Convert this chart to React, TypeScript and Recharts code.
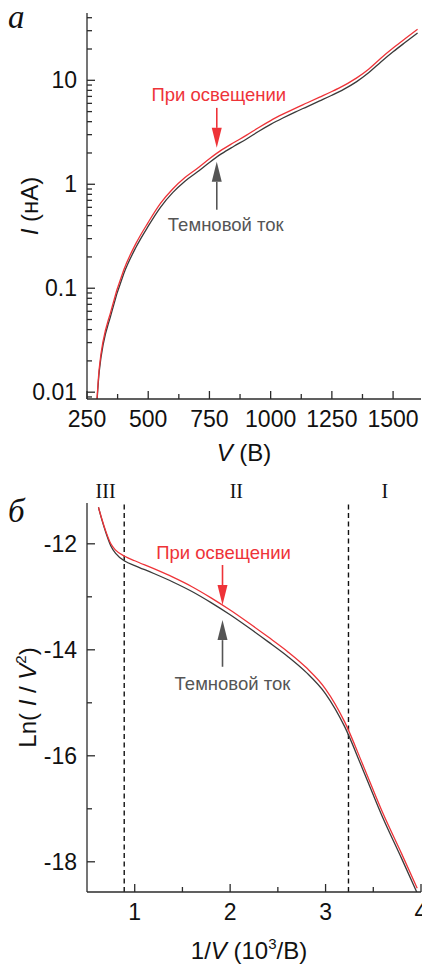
import React from 'react';
import { LineChart, Line, XAxis, YAxis, ReferenceLine, ReferenceArea } from 'recharts';

const SANS = '"Liberation Sans", Arial, sans-serif';
const SERIF = '"Liberation Serif", "Times New Roman", serif';
const RED = '#ee3338';
const DARK = '#3a3a3a';
const ARROW_DARK = '#555555';
const AXIS = '#2b2b2b';
const TEXT = '#111111';

// ---------- Panel а : I(V), log scale ----------
const voltage = [291, 300, 350, 400, 450, 500, 550, 600, 650, 700, 750, 800, 850, 900, 950, 1000, 1050, 1100, 1150, 1200, 1250, 1300, 1350, 1400, 1450, 1500, 1550, 1600];
const currentLight = [0.0086, 0.017, 0.063, 0.15, 0.27, 0.43, 0.655, 0.9, 1.16, 1.42, 1.76, 2.14, 2.52, 2.95, 3.5, 4.1, 4.72, 5.38, 6.08, 6.88, 7.8, 8.95, 10.5, 12.8, 16.3, 20.4, 25.2, 31.0];
const currentDark = [0.0083, 0.0158, 0.058, 0.138, 0.248, 0.395, 0.6, 0.83, 1.07, 1.31, 1.62, 1.97, 2.32, 2.71, 3.22, 3.77, 4.34, 4.95, 5.59, 6.33, 7.18, 8.23, 9.66, 11.8, 15.0, 18.8, 23.2, 28.5];

const vDomain = [250, 1614];
const vTicksMajor = [250, 500, 750, 1000, 1250, 1500];
const vTickLabels = ['250', '500', '750', '1000', '1250', '1500'];
const vTicksMinor = [375, 625, 875, 1125, 1375];

const iDomain = [0.0086, 44.4];
const iTicksMajor = [0.01, 0.1, 1, 10];
const iTickLabels = ['0.01', '0.1', '1', '10'];
const iTicksMinor = [0.009, 0.02, 0.03, 0.04, 0.05, 0.06, 0.07, 0.08, 0.09, 0.2, 0.3, 0.4, 0.5, 0.6, 0.7, 0.8, 0.9, 2, 3, 4, 5, 6, 7, 8, 9, 20, 30, 40];

// ---------- Panel б : Ln(I/V^2) vs 1/V ----------
const invV = [0.62, 0.65, 0.7, 0.75, 0.8, 0.9, 1.0, 1.2, 1.4, 1.6, 1.8, 2.0, 2.2, 2.4, 2.6, 2.8, 3.0, 3.2, 3.4, 3.6, 3.8, 3.96];
const lnLight = [-11.31, -11.5, -11.78, -12.0, -12.12, -12.24, -12.32, -12.47, -12.63, -12.81, -13.02, -13.25, -13.5, -13.76, -14.03, -14.34, -14.74, -15.36, -16.21, -17.08, -17.86, -18.5];
const lnDark = [-11.31, -11.51, -11.8, -12.04, -12.18, -12.33, -12.41, -12.56, -12.72, -12.9, -13.11, -13.34, -13.59, -13.85, -14.12, -14.43, -14.83, -15.45, -16.3, -17.17, -17.95, -18.59];

const xDomain = [0.5, 4.0];
const xTicksMajor = [1, 2, 3, 4];
const xTickLabels = ['1', '2', '3', '4'];
const xTicksMinor = [1.5, 2.5, 3.5];

const lnDomain = [-18.57, -11.23];
const lnTicksMajor = [-18, -16, -14, -12];
const lnTickLabels = ['-18', '-16', '-14', '-12'];
const lnTicksMinor = [-17, -15, -13];

const regionBounds = [0.5, 0.89, 3.24, 4.0];
const regionLabels = ['III', 'II', 'I'];
const dividers = [0.89, 3.24];

const labelLight = 'При освещении';
const labelDark = 'Темновой ток';

// annotation arrows (data coordinates)
const topArrows = [
  { x: 780, from: 5.43, to: 2.24, text: labelLight, color: RED, textColor: RED, dx: 2, dy: -6.5 },
  { x: 780, from: 0.569, to: 1.645, text: labelDark, color: ARROW_DARK, textColor: ARROW_DARK, dx: 9, dy: 21.7 },
];
const bottomArrows = [
  { x: 1.92, from: -12.4, to: -13.155, text: labelLight, color: RED, textColor: RED, dx: 1, dy: -5.7 },
  { x: 1.92, from: -14.32, to: -13.44, text: labelDark, color: ARROW_DARK, textColor: ARROW_DARK, dx: 10, dy: 23 },
];

const topData = voltage.map((v, i) => ({ v, light: currentLight[i], dark: currentDark[i] }));
const bottomData = invV.map((x, i) => ({ x, light: lnLight[i], dark: lnDark[i] }));

const near = (a: number, b: number) => Math.abs(a - b) < 1e-9 * Math.max(1, Math.abs(a));

const makeYTick = (majors: number[], labels: string[]) => (props: any) => {
  const { x, y, payload } = props;
  const idx = majors.findIndex((m) => near(m, payload.value));
  const major = idx >= 0;
  return (
    <g>
      <line x1={x} x2={x + (major ? 8 : 5)} y1={y} y2={y} stroke={AXIS} strokeWidth={1.3} />
      {major && (
        <text x={x - 10} y={y + 8} textAnchor="end" fontSize={23} fontFamily={SANS} fill={TEXT}>
          {labels[idx]}
        </text>
      )}
    </g>
  );
};

const makeXTick = (majors: number[], labels: string[]) => (props: any) => {
  const { x, y, payload } = props;
  const idx = majors.findIndex((m) => near(m, payload.value));
  const major = idx >= 0;
  return (
    <g>
      <line x1={x} x2={x} y1={y} y2={y - (major ? 8 : 5)} stroke={AXIS} strokeWidth={1.3} />
      {major && (
        <text x={x} y={y + 28} textAnchor="middle" fontSize={23} fontFamily={SANS} fill={TEXT}>
          {labels[idx]}
        </text>
      )}
    </g>
  );
};

const arrowShape = (a: any) => (p: any) => {
  const { x1, y1, x2, y2 } = p;
  const dir = y2 > y1 ? 1 : -1;
  const headLen = 20;
  const headW = 5;
  const baseY = y2 - dir * headLen;
  return (
    <g>
      <line x1={x1} y1={y1} x2={x2} y2={baseY} stroke={a.color} strokeWidth={1.6} />
      <polygon points={`${x2},${y2} ${x2 - headW},${baseY} ${x2 + headW},${baseY}`} fill={a.color} />
      <text x={x1 + a.dx} y={y1 + a.dy} textAnchor="middle" fontSize={18.5} fontFamily={SANS} fill={a.textColor}>
        {a.text}
      </text>
    </g>
  );
};

const axisLine = { stroke: AXIS, strokeWidth: 1.3 };

const TopYLabel = (props: any) => {
  const vb = props.viewBox;
  const cx = vb.x + 38;
  const cy = vb.y + vb.height / 2;
  return (
    <text x={cx} y={cy} transform={`rotate(-90 ${cx} ${cy})`} textAnchor="middle" fontSize={24} fontFamily={SANS} fill={TEXT}>
      <tspan fontStyle="italic">I</tspan>
      <tspan> (нА)</tspan>
    </text>
  );
};

const TopXLabel = (props: any) => {
  const vb = props.viewBox;
  const cx = vb.x + vb.width / 2 - 10;
  const cy = vb.y + 62;
  return (
    <text x={cx} y={cy} textAnchor="middle" fontSize={24} fontFamily={SANS} fill={TEXT}>
      <tspan fontStyle="italic">V</tspan>
      <tspan> (B)</tspan>
    </text>
  );
};

const BottomYLabel = (props: any) => {
  const vb = props.viewBox;
  const cx = vb.x + 36;
  const cy = vb.y + vb.height / 2;
  return (
    <text x={cx} y={cy} transform={`rotate(-90 ${cx} ${cy})`} textAnchor="middle" fontSize={24} fontFamily={SANS} fill={TEXT}>
      <tspan>Ln( </tspan>
      <tspan fontStyle="italic">I</tspan>
      <tspan> / </tspan>
      <tspan fontStyle="italic">V</tspan>
      <tspan fontSize={15} dy={-10}>2</tspan>
      <tspan dy={10}>)</tspan>
    </text>
  );
};

const BottomXLabel = (props: any) => {
  const vb = props.viewBox;
  const cx = vb.x + vb.width / 2 - 5;
  const cy = vb.y + 67;
  return (
    <text x={cx} y={cy} textAnchor="middle" fontSize={24} fontFamily={SANS} fill={TEXT}>
      <tspan>1/</tspan>
      <tspan fontStyle="italic">V</tspan>
      <tspan> (10</tspan>
      <tspan fontSize={15} dy={-10}>3</tspan>
      <tspan dy={10}>/B)</tspan>
    </text>
  );
};

const RegionLabel = (text: string) => (props: any) => {
  const vb = props.viewBox;
  return (
    <text x={vb.x + vb.width / 2} y={vb.y - 5} textAnchor="middle" fontSize={20} fontFamily={SERIF} fill={TEXT}>
      {text}
    </text>
  );
};

export default function App() {
  return (
    <div style={{ position: 'absolute', left: 0, top: 0, width: 422, height: 966, overflow: 'hidden', background: '#fff' }}>
      <div style={{ position: 'absolute', left: 0, top: 0 }}>
        <LineChart width={440} height={470} data={topData} margin={{ top: 13, right: 19, bottom: 0, left: 0 }}>
          <XAxis
            dataKey="v"
            type="number"
            domain={vDomain}
            allowDataOverflow
            ticks={[...vTicksMajor, ...vTicksMinor].sort((a, b) => a - b)}
            interval={0}
            tickSize={0}
            tickMargin={0}
            tickLine={false}
            tick={makeXTick(vTicksMajor, vTickLabels)}
            axisLine={axisLine}
            height={71}
            label={<TopXLabel />}
          />
          <XAxis xAxisId="top" orientation="top" type="number" domain={[0, 1]} height={0} tick={false} tickLine={false} axisLine={axisLine} />
          <YAxis
            type="number"
            scale="log"
            domain={iDomain}
            allowDataOverflow
            ticks={[...iTicksMajor, ...iTicksMinor].sort((a, b) => a - b)}
            interval={0}
            tickSize={0}
            tickMargin={0}
            tickLine={false}
            tick={makeYTick(iTicksMajor, iTickLabels)}
            axisLine={axisLine}
            width={87}
            label={<TopYLabel />}
          />
          <YAxis yAxisId="right" orientation="right" type="number" domain={[0, 1]} width={0} tick={false} tickLine={false} axisLine={axisLine} />
          <Line type="monotone" dataKey="dark" stroke={DARK} strokeWidth={1.3} dot={false} isAnimationActive={false} />
          <Line type="monotone" dataKey="light" stroke={RED} strokeWidth={1.3} dot={false} isAnimationActive={false} />
          {topArrows.map((a, i) => (
            <ReferenceLine
              key={'ta' + i}
              segment={[{ x: a.x, y: a.from }, { x: a.x, y: a.to }]}
              shape={arrowShape(a)}
            />
          ))}
        </LineChart>
      </div>

      <div style={{ position: 'absolute', left: 0, top: 470 }}>
        <LineChart width={440} height={496} data={bottomData} margin={{ top: 33, right: 19, bottom: 0, left: 0 }}>
          <XAxis
            dataKey="x"
            type="number"
            domain={xDomain}
            allowDataOverflow
            ticks={[...xTicksMajor, ...xTicksMinor].sort((a, b) => a - b)}
            interval={0}
            tickSize={0}
            tickMargin={0}
            tickLine={false}
            tick={makeXTick(xTicksMajor, xTickLabels)}
            axisLine={axisLine}
            height={74}
            label={<BottomXLabel />}
          />
          <XAxis xAxisId="top" orientation="top" type="number" domain={[0, 1]} height={0} tick={false} tickLine={false} axisLine={axisLine} />
          <YAxis
            type="number"
            domain={lnDomain}
            allowDataOverflow
            ticks={[...lnTicksMajor, ...lnTicksMinor].sort((a, b) => a - b)}
            interval={0}
            tickSize={0}
            tickMargin={0}
            tickLine={false}
            tick={makeYTick(lnTicksMajor, lnTickLabels)}
            axisLine={axisLine}
            width={87}
            label={<BottomYLabel />}
          />
          <YAxis yAxisId="right" orientation="right" type="number" domain={[0, 1]} width={0} tick={false} tickLine={false} axisLine={axisLine} />
          {regionLabels.map((r, i) => (
            <ReferenceArea
              key={'reg' + i}
              x1={regionBounds[i]}
              x2={regionBounds[i + 1]}
              fill="none"
              fillOpacity={0}
              stroke="none"
              label={RegionLabel(r)}
            />
          ))}
          {dividers.map((d, i) => (
            <ReferenceLine key={'div' + i} x={d} stroke={TEXT} strokeWidth={1.4} strokeDasharray="5 3.5" />
          ))}
          <Line type="monotone" dataKey="dark" stroke={DARK} strokeWidth={1.3} dot={false} isAnimationActive={false} />
          <Line type="monotone" dataKey="light" stroke={RED} strokeWidth={1.3} dot={false} isAnimationActive={false} />
          {bottomArrows.map((a, i) => (
            <ReferenceLine
              key={'ba' + i}
              segment={[{ x: a.x, y: a.from }, { x: a.x, y: a.to }]}
              shape={arrowShape(a)}
            />
          ))}
        </LineChart>
      </div>

      <svg width={60} height={966} style={{ position: 'absolute', left: 0, top: 0, pointerEvents: 'none' }}>
        <text x={8} y={28} fontSize={33} fontStyle="italic" fontFamily={SERIF} fill={TEXT}>а</text>
        <text x={8} y={522} fontSize={33} fontStyle="italic" fontFamily={SERIF} fill={TEXT}>б</text>
      </svg>
    </div>
  );
}
